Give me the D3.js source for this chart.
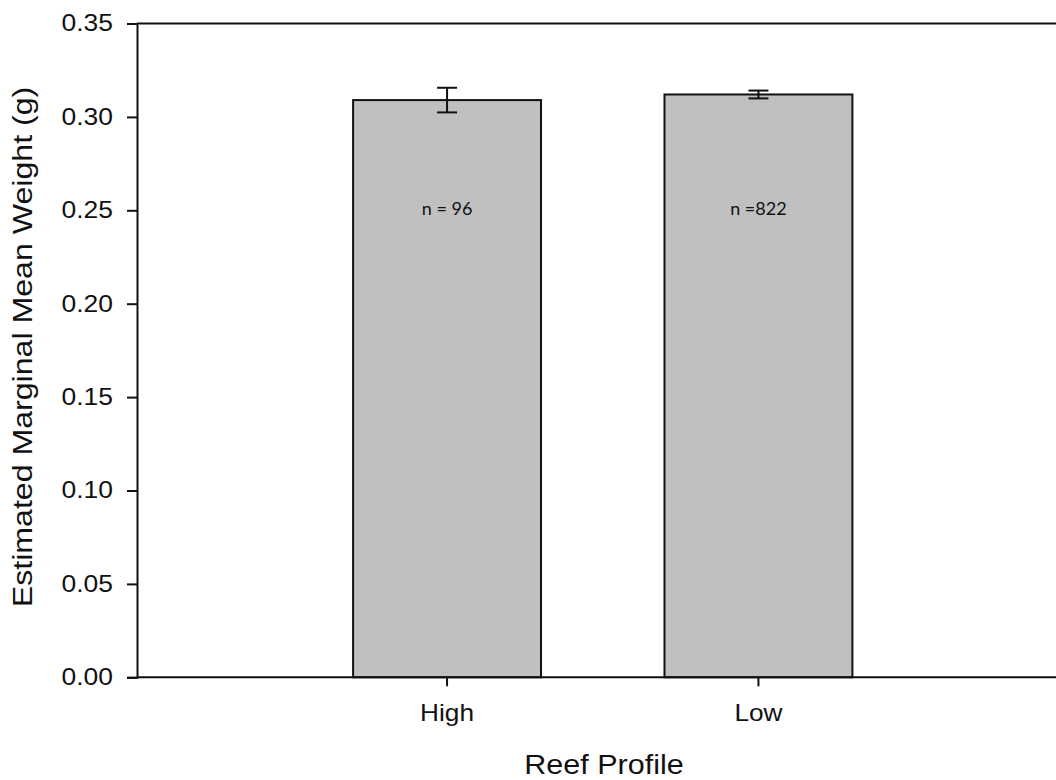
<!DOCTYPE html>
<html>
<head>
<meta charset="utf-8">
<script src="https://cdn.jsdelivr.net/npm/d3@7"></script>
<style>
  html, body { margin: 0; padding: 0; background: #fff; }
  svg { display: block; }
</style>
</head>
<body>
<svg id="chart" width="1056" height="780"></svg>
<script>
// Reef profile categories, estimated marginal means and standard errors
const categories = ["High", "Low"];
const meanWeight = [0.309, 0.312];
const stdError = [0.0066, 0.0021];
const sampleLabels = ["n = 96", "n =822"];
const yTicks = [0.00, 0.05, 0.10, 0.15, 0.20, 0.25, 0.30, 0.35];

const svg = d3.select("#chart");
const plotLeft = 137, plotRight = 1068.5, plotTop = 23.5, plotBottom = 677.3;
const labelFont = "'Liberation Sans', Arial, sans-serif";
const ink = "#111";

const x = d3.scaleBand()
  .domain(categories)
  .range([plotLeft, plotRight])
  .paddingInner(0.3965)
  .paddingOuter(0.694);

const y = d3.scaleLinear().domain([0, 0.35]).range([plotBottom, plotTop]);

const data = categories.map((c, i) => ({
  cat: c, mean: meanWeight[i], se: stdError[i], label: sampleLabels[i]
}));

// Bars
svg.append("g").selectAll("rect")
  .data(data)
  .join("rect")
  .attr("x", d => x(d.cat))
  .attr("y", d => y(d.mean))
  .attr("width", x.bandwidth())
  .attr("height", d => y(0) - y(d.mean))
  .attr("fill", "#c0c0c0")
  .attr("stroke", ink)
  .attr("stroke-width", 2);

// Error bars (mean ± SE)
const err = svg.append("g").attr("stroke", ink).attr("stroke-width", 2);
data.forEach(d => {
  const cx = x(d.cat) + x.bandwidth() / 2;
  const hi = y(d.mean + d.se), lo = y(d.mean - d.se);
  err.append("line").attr("x1", cx).attr("x2", cx).attr("y1", hi).attr("y2", lo);
  err.append("line").attr("x1", cx - 10).attr("x2", cx + 10).attr("y1", hi).attr("y2", hi);
  err.append("line").attr("x1", cx - 10).attr("x2", cx + 10).attr("y1", lo).attr("y2", lo);
});

// Sample size labels inside bars
svg.append("g").selectAll("text")
  .data(data)
  .join("text")
  .attr("x", d => x(d.cat) + x.bandwidth() / 2)
  .attr("y", y(0.25) + 5)
  .attr("text-anchor", "middle")
  .attr("font-family", "Lato, 'Open Sans', sans-serif")
  .attr("font-size", 18)
  .attr("fill", ink)
  .text(d => d.label);

// Top frame line
svg.append("line")
  .attr("x1", plotLeft).attr("x2", 1056)
  .attr("y1", plotTop).attr("y2", plotTop)
  .attr("stroke", ink).attr("stroke-width", 2);

// Y axis
const yAxis = svg.append("g")
  .attr("transform", `translate(${plotLeft},0)`)
  .call(d3.axisLeft(y).tickValues(yTicks).tickFormat(d3.format(".2f")).tickSizeOuter(0).tickSize(10).tickPadding(14));
yAxis.select(".domain").attr("stroke", ink).attr("stroke-width", 2);
yAxis.selectAll(".tick line").attr("stroke", ink).attr("stroke-width", 2);
yAxis.selectAll(".tick text")
  .attr("x", null)
  .attr("transform", "translate(-24,0) scale(1.15,1)")
  .attr("font-family", labelFont)
  .attr("font-size", 23)
  .attr("fill", ink);

// X axis
const xAxis = svg.append("g")
  .attr("transform", `translate(0,${plotBottom})`)
  .call(d3.axisBottom(x).tickSizeOuter(0).tickSize(9).tickPadding(18));
xAxis.select(".domain").attr("d", `M${plotLeft},0H1056`).attr("stroke", ink).attr("stroke-width", 2);
xAxis.selectAll(".tick line").attr("stroke", ink).attr("stroke-width", 2);
xAxis.selectAll(".tick text")
  .attr("transform", "scale(1.14,1)")
  .attr("font-family", labelFont)
  .attr("font-size", 23)
  .attr("fill", ink);

// Axis titles
svg.append("text")
  .attr("transform", "translate(604,774) scale(1.09,1)")
  .attr("text-anchor", "middle")
  .attr("font-family", labelFont)
  .attr("font-size", 28)
  .attr("fill", ink)
  .text("Reef Profile");

svg.append("text")
  .attr("transform", "translate(32,347) rotate(-90) scale(1.19,1)")
  .attr("text-anchor", "middle")
  .attr("font-family", labelFont)
  .attr("font-size", 27)
  .attr("fill", ink)
  .text("Estimated Marginal Mean Weight (g)");
</script>
</body>
</html>
